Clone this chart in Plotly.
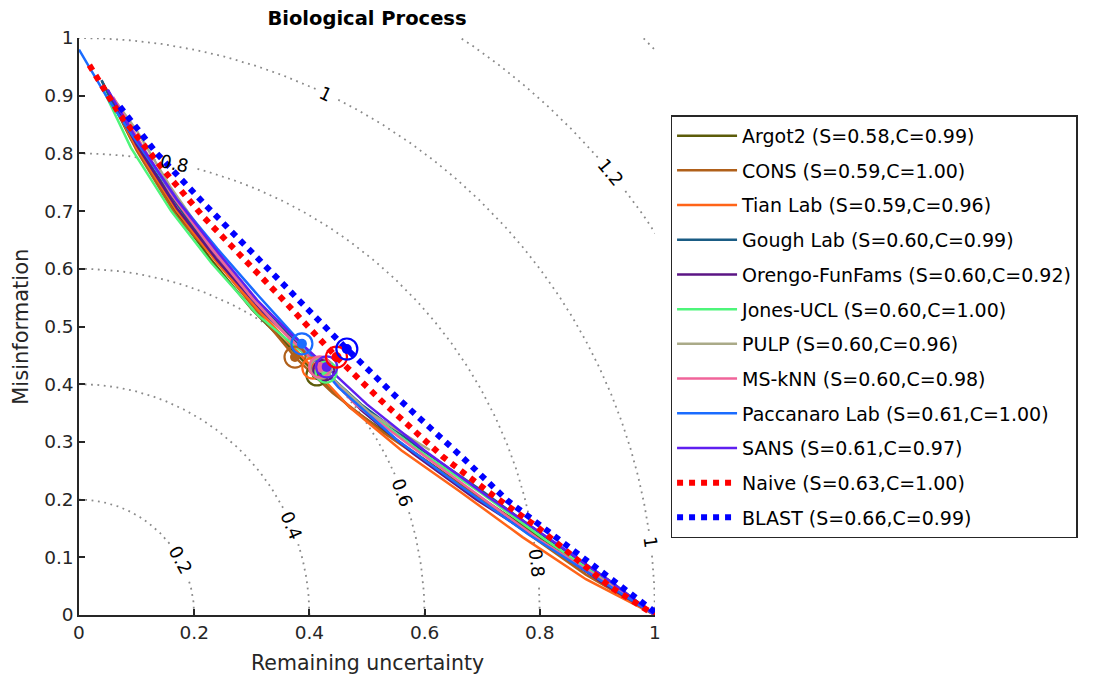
import numpy as np
import plotly.graph_objects as go

# Method names and colours (legend order)
methods = ['Argot2', 'CONS', 'Tian Lab', 'Gough Lab', 'Orengo-FunFams', 'Jones-UCL',
           'PULP', 'MS-kNN', 'Paccanaro Lab', 'SANS', 'Naive', 'BLAST']
smin = [0.58, 0.59, 0.59, 0.60, 0.60, 0.60, 0.60, 0.60, 0.61, 0.61, 0.63, 0.66]
cov = [0.99, 1.00, 0.96, 0.99, 0.92, 1.00, 0.96, 0.98, 1.00, 0.97, 1.00, 0.99]
colors = ['#5c5c0a', '#b0601a', '#ff6418', '#1a5c84', '#5b1584', '#4df57a',
          '#aaaa88', '#f0649a', '#1a6cff', '#5f1ff0', '#ff0000', '#0000ff']

# RU-MI curves (remaining uncertainty, misinformation)
argot2_ru = [0.04, 0.09, 0.16, 0.23, 0.30, 0.36, 0.413, 0.47, 0.57, 0.68, 0.80, 0.91, 1.0]
argot2_mi = [0.925, 0.825, 0.71, 0.615, 0.53, 0.47, 0.416, 0.36, 0.29, 0.215, 0.135, 0.06, 0.0]
cons_ru = [0.045, 0.10, 0.17, 0.233, 0.293, 0.375, 0.44, 0.53, 0.64, 0.76, 0.88, 1.0]
cons_mi = [0.915, 0.805, 0.69, 0.621, 0.546, 0.447, 0.385, 0.315, 0.24, 0.155, 0.07, 0.0]
tian_ru = [0.05, 0.10, 0.17, 0.24, 0.31, 0.406, 0.47, 0.56, 0.66, 0.77, 0.88, 1.0]
tian_mi = [0.905, 0.81, 0.70, 0.61, 0.53, 0.428, 0.36, 0.285, 0.215, 0.135, 0.062, 0.0]
gough_ru = [0.039, 0.07, 0.13, 0.20, 0.27, 0.35, 0.42, 0.49, 0.59, 0.70, 0.81, 0.92, 1.0]
gough_mi = [0.927, 0.865, 0.77, 0.67, 0.585, 0.50, 0.428, 0.365, 0.29, 0.215, 0.135, 0.06, 0.0]
orengo_ru = [0.05, 0.10, 0.17, 0.24, 0.32, 0.425, 0.49, 0.58, 0.69, 0.80, 0.91, 1.0]
orengo_mi = [0.91, 0.815, 0.705, 0.615, 0.525, 0.424, 0.355, 0.28, 0.20, 0.13, 0.055, 0.0]
jones_ru = [0.04, 0.09, 0.16, 0.23, 0.31, 0.37, 0.429, 0.49, 0.59, 0.70, 0.81, 0.92, 1.0]
jones_mi = [0.915, 0.81, 0.70, 0.61, 0.52, 0.47, 0.421, 0.36, 0.285, 0.21, 0.13, 0.055, 0.0]
pulp_ru = [0.06, 0.10, 0.16, 0.23, 0.30, 0.36, 0.42, 0.505, 0.609]
pulp_mi = [0.895, 0.84, 0.74, 0.64, 0.55, 0.485, 0.428, 0.35, 0.286]
msknn_ru = [0.059, 0.10, 0.16, 0.23, 0.30, 0.36, 0.418, 0.48, 0.58, 0.69, 0.80, 0.91, 1.0]
msknn_mi = [0.898, 0.83, 0.73, 0.635, 0.55, 0.485, 0.43, 0.365, 0.29, 0.21, 0.13, 0.06, 0.0]
pacc_ru = [0.0, 0.05, 0.10, 0.17, 0.24, 0.31, 0.387, 0.45, 0.55, 0.66, 0.78, 0.89, 1.0]
pacc_mi = [0.98, 0.895, 0.82, 0.72, 0.635, 0.555, 0.470, 0.395, 0.305, 0.225, 0.14, 0.07, 0.0]
sans_ru = [0.05, 0.10, 0.17, 0.24, 0.31, 0.37, 0.43, 0.50, 0.60, 0.71, 0.82, 0.92, 1.0]
sans_mi = [0.91, 0.825, 0.72, 0.63, 0.545, 0.485, 0.43, 0.365, 0.285, 0.205, 0.13, 0.06, 0.0]
naive_ru = [0.018, 0.071, 0.152, 0.216, 0.349, 0.447, 0.523, 0.632, 0.714, 0.795, 0.922, 1.0]
naive_mi = [0.953, 0.867, 0.765, 0.69, 0.552, 0.447, 0.373, 0.274, 0.211, 0.153, 0.049, 0.0]
blast_ru = [0.071, 0.135, 0.222, 0.366, 0.465, 0.552, 0.667, 0.743, 0.818, 0.910, 1.0]
blast_mi = [0.881, 0.80, 0.708, 0.560, 0.461, 0.377, 0.272, 0.199, 0.142, 0.073, 0.005]

curves_ru = [argot2_ru, cons_ru, tian_ru, gough_ru, orengo_ru, jones_ru,
             pulp_ru, msknn_ru, pacc_ru, sans_ru, naive_ru, blast_ru]
curves_mi = [argot2_mi, cons_mi, tian_mi, gough_mi, orengo_mi, jones_mi,
             pulp_mi, msknn_mi, pacc_mi, sans_mi, naive_mi, blast_mi]

# Smin operating points
smin_ru = [0.413, 0.375, 0.406, 0.42, 0.425, 0.429, 0.42, 0.418, 0.387, 0.43, 0.447, 0.465]
smin_mi = [0.416, 0.447, 0.428, 0.428, 0.424, 0.421, 0.428, 0.43, 0.470, 0.43, 0.447, 0.461]

# Iso-S contour levels and where their labels sit (level, angle in degrees)
levels = [0.2, 0.4, 0.6, 0.8, 1.0, 1.2, 1.4]
level_labels = [(0.2, 28.5), (0.4, 22.8), (0.6, 20.7), (0.8, 6.4), (0.8, 78.0),
                (1.0, 7.3), (1.0, 64.7), (1.2, 39.7)]

font = 'DejaVu Sans'
fig = go.Figure()

# dotted iso-S arcs, broken where the labels are
for r in levels:
    xs, ys = [], []
    for t in np.linspace(0, 90, 1441):
        gap = False
        for lv, a in level_labels:
            half = 0.018 if lv == 1.0 else 0.034
            if lv == r and abs(np.radians(t - a)) * r < half:
                gap = True
        if gap:
            xs.append(None)
            ys.append(None)
        else:
            xs.append(r * np.cos(np.radians(t)))
            ys.append(r * np.sin(np.radians(t)))
    fig.add_trace(go.Scatter(x=xs, y=ys, mode='lines', showlegend=False, hoverinfo='skip',
                             line=dict(color='#8a8a8a', width=1.8, dash='1.8px,4.6px')))

for lv, a in level_labels:
    txt = '1' if lv == 1.0 else ('%g' % lv)
    fig.add_annotation(x=lv * np.cos(np.radians(a)), y=lv * np.sin(np.radians(a)),
                       xref='x', yref='y', text=txt, showarrow=False, textangle=90 - a,
                       font=dict(family=font, size=18, color='black'))

# the curves
for i, name in enumerate(methods):
    dotted = name in ('Naive', 'BLAST')
    fig.add_trace(go.Scatter(
        x=curves_ru[i], y=curves_mi[i], mode='lines',
        name='%s (S=%.2f,C=%.2f)' % (name, smin[i], cov[i]),
        legendgroup=name,
        line=dict(color=colors[i], width=6 if dotted else 2.5,
                  dash='6px,6px' if dotted else 'solid')))

# Smin markers
for i, name in enumerate(methods):
    fig.add_trace(go.Scatter(
        x=[smin_ru[i]], y=[smin_mi[i]], mode='markers', showlegend=False,
        marker=dict(symbol='circle-open', size=21, color=colors[i], line=dict(width=2.2))))
    fig.add_trace(go.Scatter(
        x=[smin_ru[i]], y=[smin_mi[i]], mode='markers', showlegend=False,
        marker=dict(symbol='circle', size=10, color=colors[i])))

axis_style = dict(range=[0, 1], showgrid=False, zeroline=False, showline=True,
                  linecolor='#262626', linewidth=1.5, ticks='inside', ticklen=6,
                  tickcolor='#262626', tickwidth=1.5, mirror=False,
                  tickfont=dict(family=font, size=18.5, color='#262626'))

# page has an 8px body margin, so the figure is 8px smaller
fig.update_layout(
    width=1086, height=673,
    margin=dict(l=71, r=439, t=30, b=66),
    plot_bgcolor='white', paper_bgcolor='white',
    xaxis=dict(axis_style, tickvals=[0, 0.2, 0.4, 0.6, 0.8, 1],
               ticktext=['0', '0.2', '0.4', '0.6', '0.8', '1']),
    yaxis=dict(axis_style, tickvals=[i / 10 for i in range(11)],
               ticktext=['0', '0.1', '0.2', '0.3', '0.4', '0.5', '0.6', '0.7', '0.8', '0.9', '1']),
    title=dict(text='<b>Biological Process</b>', x=0.5, xref='paper', y=1 - 10 / 673,
               yanchor='middle', font=dict(family=font, size=19.5, color='black')),
    legend=dict(x=1.027, y=0.866, xanchor='left', yanchor='top',
                bordercolor='#262626', borderwidth=1.5, bgcolor='white',
                font=dict(family=font, size=19, color='black'),
                tracegroupgap=7, itemwidth=60),
    showlegend=True,
)

fig.add_annotation(x=0.5, y=-0.083, xref='paper', yref='paper', text='Remaining uncertainty',
                   showarrow=False, yanchor='middle',
                   font=dict(family=font, size=20.5, color='#262626'))
fig.add_annotation(x=-0.102, y=0.5, xref='paper', yref='paper', text='Misinformation',
                   showarrow=False, textangle=-90, xanchor='center',
                   font=dict(family=font, size=21, color='#262626'))

fig.write_html('out.html')
